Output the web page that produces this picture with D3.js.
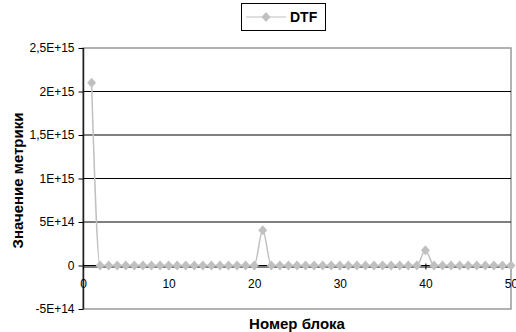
<!DOCTYPE html>
<html>
<head>
<meta charset="utf-8">
<script src="https://cdn.jsdelivr.net/npm/d3@7"></script>
<style>
  html, body { margin: 0; padding: 0; background: #fff; }
  svg { display: block; font-family: "Liberation Sans", Arial, sans-serif; }
</style>
</head>
<body>
<svg id="chart" width="516" height="332"></svg>
<script>
// Block numbers and DTF metric per block
const blocks = d3.range(1, 51);
const dtfValues = [
  2.1e15, 0, 0, 0, 0, 0, 0, 0, 0, 0,
  0, 0, 0, 0, 0, 0, 0, 0, 0, 0,
  4.05e14, 0, 0, 0, 0, 0, 0, 0, 0, 0,
  0, 0, 0, 0, 0, 0, 0, 0, 0, 1.75e14,
  0, 0, 0, 0, 0, 0, 0, 0, 0, 0
];
const yTicks = [-5e14, 0, 5e14, 1e15, 1.5e15, 2e15, 2.5e15];
const yTickLabels = ["-5E+14", "0", "5E+14", "1E+15", "1,5E+15", "2E+15", "2,5E+15"];
const xTicks = [0, 10, 20, 30, 40, 50];
const seriesName = "DTF";

const data = blocks.map((b, i) => ({ x: b, y: dtfValues[i] }));

const svg = d3.select("#chart");
const plot = { left: 83, right: 511, top: 48, bottom: 309 };
const seriesColor = "#c0c0c0";
const font = "Liberation Sans, Arial, sans-serif";

const x = d3.scaleLinear().domain([0, 50]).range([plot.left, plot.right]);
const y = d3.scaleLinear().domain([-5e14, 2.5e15]).range([plot.bottom, plot.top]);

// Plot frame
svg.append("rect")
  .attr("x", plot.left).attr("y", plot.top)
  .attr("width", plot.right - plot.left).attr("height", plot.bottom - plot.top)
  .attr("fill", "none").attr("stroke", "#999").attr("stroke-width", 1.5);

// Horizontal gridlines
svg.append("g").selectAll("line")
  .data(yTicks.filter(t => t > -5e14 && t < 2.5e15))
  .join("line")
  .attr("x1", plot.left).attr("x2", plot.right)
  .attr("y1", d => y(d)).attr("y2", d => y(d))
  .attr("stroke", "#000").attr("stroke-width", 1);

// Y axis
const yAxis = d3.axisLeft(y).tickValues(yTicks)
  .tickFormat((d, i) => yTickLabels[i]).tickSize(5).tickPadding(4);
const yg = svg.append("g").attr("transform", `translate(${plot.left + 0.5},0)`).call(yAxis);
yg.select(".domain").attr("stroke", "#222").attr("stroke-width", 1.5)
  .attr("d", `M0,${plot.top}V${plot.bottom}`);
yg.selectAll(".tick line").attr("stroke", "#000");
yg.selectAll("text").attr("font-size", 12).attr("fill", "#000").attr("font-family", font);

// X axis at zero, ticks crossing the line
const x0 = Math.round(y(0)) + 0.5;
const xAxis = d3.axisBottom(x).tickValues(xTicks).tickSize(0).tickPadding(13);
const xg = svg.append("g").attr("transform", `translate(0,${x0})`).call(xAxis);
xg.select(".domain").attr("stroke", "#000");
xg.selectAll(".tick line").attr("y1", -3).attr("y2", 3).attr("stroke", "#000");
xg.selectAll("text").attr("font-size", 12).attr("fill", "#000").attr("font-family", font);

// Smoothed series line
const line = d3.line().x(d => x(d.x)).y(d => y(d.y)).curve(d3.curveMonotoneX);
svg.append("path").datum(data)
  .attr("d", line).attr("fill", "none")
  .attr("stroke", seriesColor).attr("stroke-width", 1.5);

// Diamond markers (slightly taller than wide)
const diamondPath = "M0,-5L4.5,0L0,5L-4.5,0Z";
svg.append("g").selectAll("path")
  .data(data).join("path")
  .attr("transform", d => `translate(${x(d.x)},${y(d.y)})`)
  .attr("d", diamondPath).attr("fill", seriesColor);

// Axis titles
svg.append("text")
  .attr("x", 297).attr("y", 329)
  .attr("text-anchor", "middle").attr("font-size", 15).attr("font-weight", "bold")
  .text("Номер блока");
svg.append("text")
  .attr("transform", `translate(23,${(plot.top + plot.bottom) / 2 + 2}) rotate(-90)`)
  .attr("text-anchor", "middle").attr("font-size", 15).attr("font-weight", "bold")
  .text("Значение метрики");

// Legend
const lg = svg.append("g");
lg.append("rect").attr("x", 241.5).attr("y", 3.5).attr("width", 84).attr("height", 27)
  .attr("fill", "#fff").attr("stroke", "#000").attr("stroke-width", 1);
lg.append("line").attr("x1", 246).attr("x2", 286).attr("y1", 17).attr("y2", 17)
  .attr("stroke", seriesColor).attr("stroke-width", 1.2);
lg.append("path").attr("transform", "translate(266,17)").attr("d", diamondPath).attr("fill", seriesColor);
lg.append("text").attr("x", 290).attr("y", 22).attr("font-size", 14)
  .attr("font-weight", "bold").text(seriesName);
</script>
</body>
</html>
